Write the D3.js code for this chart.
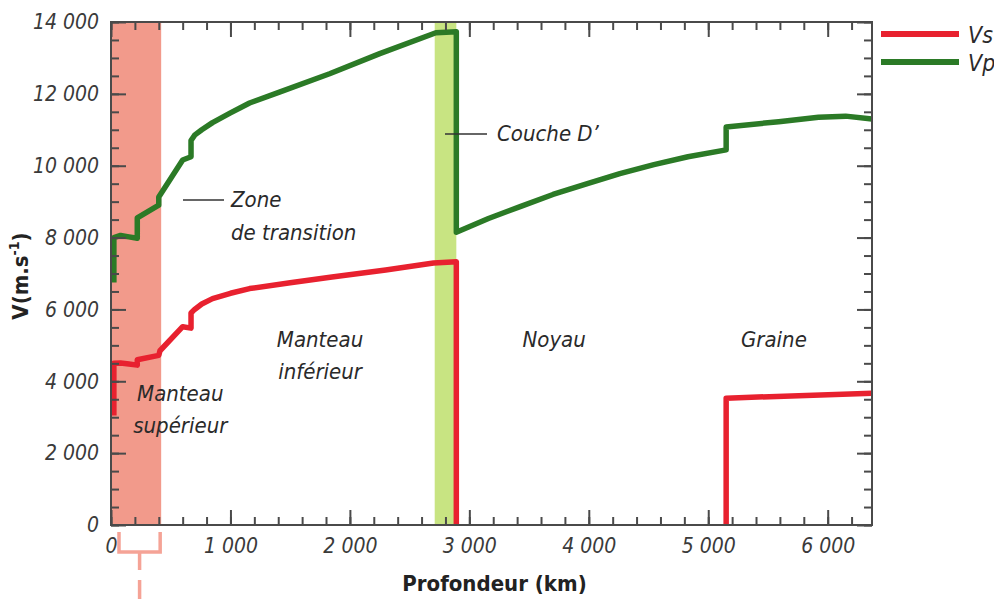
<!DOCTYPE html>
<html><head><meta charset="utf-8">
<script src="https://cdn.jsdelivr.net/npm/d3@7"></script>
<style>
html,body{margin:0;padding:0;background:#fff;}
svg{display:block;}
text{font-family:'DejaVu Sans',sans-serif;font-stretch:condensed;}
</style></head>
<body>
<svg id="chart" width="994" height="599"></svg>
<script>
// ---- Data ----
const vpDepth = [24, 24, 80, 150, 220, 220, 400, 400, 600, 670, 670, 700, 760, 850, 1000, 1160, 1410, 1830, 2250, 2720, 2891, 2891, 3160, 3431, 3700, 3988, 4260, 4545, 4830, 5150, 5150, 5590, 5923, 6150, 6371];
const vpValue = [6750, 8000, 8060, 8020, 7980, 8550, 8900, 9130, 10160, 10250, 10700, 10850, 11000, 11200, 11470, 11745, 12050, 12560, 13120, 13700, 13730, 8150, 8530, 8870, 9200, 9500, 9780, 10030, 10250, 10440, 11080, 11225, 11347, 11380, 11300];

const vsDepth = [24, 24, 80, 150, 220, 220, 400, 410, 600, 670, 670, 700, 760, 850, 1000, 1160, 1500, 1850, 2300, 2700, 2891, 2891, 5150, 5150, 6371];
const vsValue = [3050, 4500, 4510, 4480, 4450, 4600, 4720, 4850, 5520, 5480, 5900, 6000, 6150, 6300, 6450, 6580, 6740, 6900, 7100, 7290, 7330, 0, 0, 3530, 3670];

const seriesNames = ["Vs", "Vp"];
const seriesColors = ["#e8212f", "#2b7a26"];

const layerBands = [[0, 420], [2710, 2891]];
const bandColors = ["#f29a8b", "#c8e482"];

const xTicks = [0, 1000, 2000, 3000, 4000, 5000, 6000];
const xTickLabels = ["0", "1 000", "2 000", "3 000", "4 000", "5 000", "6 000"];
const xMinorTicks = d3.range(0, 6400, 200);
const yTicks = [0, 2000, 4000, 6000, 8000, 10000, 12000, 14000];
const yTickLabels = ["0", "2 000", "4 000", "6 000", "8 000", "10 000", "12 000", "14 000"];
const yMinorTicks = d3.range(0, 14001, 500);

const regionLabels = [
  {lines: ["Manteau", "supérieur"], depth: 580, v: 3450, anchor: "middle"},
  {lines: ["Manteau", "inférieur"], depth: 1750, v: 4950, anchor: "middle"},
  {lines: ["Noyau"], depth: 3710, v: 4950, anchor: "middle"},
  {lines: ["Graine"], depth: 5550, v: 4950, anchor: "middle"}
];

// ---- Layout ----
const svg = d3.select("#chart");
const W = 994, H = 599;
const m = {left: 111, right: 872, top: 22, bottom: 525};
const x = d3.scaleLinear().domain([0, 6371]).range([m.left, m.right]);
const y = d3.scaleLinear().domain([0, 14000]).range([m.bottom, m.top]);

svg.append("rect").attr("width", W).attr("height", H).attr("fill", "#fff");

// bands
svg.append("g").selectAll("rect").data(layerBands).join("rect")
  .attr("x", d => x(d[0])).attr("width", d => x(d[1]) - x(d[0]))
  .attr("y", m.top).attr("height", m.bottom - m.top)
  .attr("fill", (d, i) => bandColors[i]);

// bracket below upper mantle
const bracketColor = "#f5a396";
const bg = svg.append("g").attr("stroke", bracketColor).attr("stroke-width", 3.5).attr("fill", "none");
const bx0 = x(layerBands[0][0]) + 8, bx1 = x(layerBands[0][1]) - 1, bmid = (bx0 + bx1) / 2;
bg.append("path").attr("d", `M${bx0},532 V552 H${bx1} V532`);
bg.append("path").attr("d", `M${bmid},552 V570`);
bg.append("path").attr("d", `M${bmid},580 V599`);

// series
const line = d3.line().x(d => x(d[0])).y(d => y(d[1]));
function segments(depths, values) {
  const segs = [];
  let cur = [];
  depths.forEach((dd, i) => {
    if (i > 0 && values[i] === 0 && values[i - 1] === 0) {
      segs.push(cur); cur = [];
    }
    cur.push([dd, values[i]]);
  });
  segs.push(cur);
  return segs;
}
const lg = svg.append("g").attr("fill", "none").attr("stroke-width", 5.5)
  .attr("stroke-linejoin", "round").attr("stroke-linecap", "butt");
segments(vpDepth, vpValue).forEach(s => lg.append("path").attr("d", line(s)).attr("stroke", seriesColors[1]));
segments(vsDepth, vsValue).forEach(s => lg.append("path").attr("d", line(s)).attr("stroke", seriesColors[0]));

// axes
const axisColor = "#4a4a4a";
function styleAxis(g) {
  g.select(".domain").remove();
  g.attr("font-family", null).attr("font-size", null);
  g.selectAll(".tick line").attr("stroke", axisColor).attr("stroke-width", 2);
  g.selectAll(".tick text").attr("fill", "#3a3a3a").attr("font-size", 21)
    .attr("font-style", "italic");
}
svg.append("g").attr("transform", `translate(${m.left},0)`)
  .call(d3.axisLeft(y).tickValues(yMinorTicks).tickSize(-8).tickFormat(""))
  .call(styleAxis);
svg.append("g").attr("transform", `translate(${m.left},0)`)
  .call(d3.axisLeft(y).tickValues(yTicks).tickSize(-15).tickPadding(12)
    .tickFormat((d, i) => yTickLabels[i]))
  .call(styleAxis);
svg.append("g").attr("transform", `translate(${m.right},0)`)
  .call(d3.axisRight(y).tickValues(yMinorTicks).tickSize(-8).tickFormat(""))
  .call(styleAxis);
svg.append("g").attr("transform", `translate(${m.right},0)`)
  .call(d3.axisRight(y).tickValues(yTicks).tickSize(-15).tickFormat(""))
  .call(styleAxis);
svg.append("g").attr("transform", `translate(0,${m.bottom})`)
  .call(d3.axisBottom(x).tickValues(xMinorTicks).tickSize(-8).tickFormat(""))
  .call(styleAxis);
svg.append("g").attr("transform", `translate(0,${m.bottom})`)
  .call(d3.axisBottom(x).tickValues(xTicks).tickSize(-15).tickPadding(13)
    .tickFormat((d, i) => xTickLabels[i]))
  .call(styleAxis);
svg.append("g").attr("transform", `translate(0,${m.top})`)
  .call(d3.axisTop(x).tickValues(xMinorTicks).tickSize(-8).tickFormat(""))
  .call(styleAxis);
svg.append("g").attr("transform", `translate(0,${m.top})`)
  .call(d3.axisTop(x).tickValues(xTicks).tickSize(-15).tickFormat(""))
  .call(styleAxis);

// frame
svg.append("rect").attr("x", m.left).attr("y", m.top)
  .attr("width", m.right - m.left).attr("height", m.bottom - m.top)
  .attr("fill", "none").attr("stroke", axisColor).attr("stroke-width", 2);

// axis titles
svg.append("text").attr("x", (m.left + m.right) / 2 + 3).attr("y", 591)
  .attr("text-anchor", "middle").attr("font-size", 22).attr("font-weight", "bold")
  .attr("fill", "#222").text("Profondeur (km)");
const yt = svg.append("text").attr("transform", "translate(28,276) rotate(-90)")
  .attr("text-anchor", "middle").attr("font-size", 22).attr("font-weight", "bold")
  .attr("fill", "#222");
yt.append("tspan").text("V(m.s");
yt.append("tspan").attr("font-size", 14).attr("dy", -9).text("-1");
yt.append("tspan").attr("dy", 9).text(")");

// region labels
const annot = svg.append("g").attr("font-size", 22).attr("font-style", "italic").attr("fill", "#2a2a2a");
regionLabels.forEach(r => {
  r.lines.forEach((t, i) => {
    annot.append("text").attr("x", x(r.depth)).attr("y", y(r.v) + i * 32)
      .attr("text-anchor", r.anchor).text(t);
  });
});
// Zone de transition with leader
annot.append("text").attr("x", 231).attr("y", 207).text("Zone");
annot.append("text").attr("x", 231).attr("y", 240).text("de transition");
svg.append("line").attr("x1", 183).attr("x2", 224).attr("y1", 200).attr("y2", 200)
  .attr("stroke", "#333").attr("stroke-width", 1.6);
// Couche D'
annot.append("text").attr("x", 497).attr("y", 141).text("Couche D’");
svg.append("line").attr("x1", 445).attr("x2", 487).attr("y1", 134).attr("y2", 134)
  .attr("stroke", "#333").attr("stroke-width", 1.6);

// legend
const leg = svg.append("g");
seriesNames.forEach((n, i) => {
  const ly = 34 + i * 28;
  leg.append("line").attr("x1", 881).attr("x2", 959).attr("y1", ly).attr("y2", ly)
    .attr("stroke", seriesColors[i]).attr("stroke-width", 6);
  leg.append("text").attr("x", 968).attr("y", ly + 9).attr("font-size", 23)
    .attr("font-style", "italic").attr("fill", "#2a2a2a").text(n);
});
</script>
</body></html>
